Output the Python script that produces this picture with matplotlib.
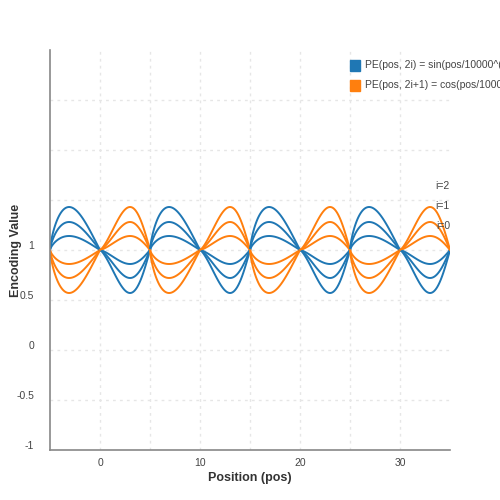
import numpy as np
import matplotlib
matplotlib.use("Agg")
import matplotlib.pyplot as plt

plt.rcParams['font.family'] = ['Liberation Sans', 'DejaVu Sans']

# Data
lobe_starts = [-5, 0, 5, 10, 15, 20, 25, 30]
blue_signs = [1, -1, 1, -1, 1, -1, 1, -1]
amplitudes = [0.14, 0.28, 0.43]          # i=0, i=1, i=2
center = 1.0
yticks = [-1, -0.5, 0, 0.5, 1]
ytick_labels = ["-1", "-0.5", "0", "0.5", "1"]
xticks = [0, 10, 20, 30]
series_labels = ["PE(pos, 2i) = sin(pos/10000^(2i/d))", "PE(pos, 2i+1) = cos(pos/10000^(2i/d))"]
blue, orange = "#1f77b4", "#ff7f0e"

fig = plt.figure(figsize=(5, 5), dpi=100)
ax = fig.add_axes([0.1, 0.1, 0.8, 0.8])
ax.set_xlim(-5, 35)
ax.set_ylim(-1, 3)

for xv in np.arange(0, 35, 5):
    ax.axvline(xv, color="#e6e6e6", lw=1, ls=(0, (2, 3)), zorder=0)
for yv in np.arange(-0.5, 3, 0.5):
    ax.axhline(yv, color="#e6e6e6", lw=1, ls=(0, (2, 3)), zorder=0)

t = np.linspace(0, 1, 60)
for k, (s, sg) in enumerate(zip(lobe_starts, blue_signs)):
    p = 0.72 if k % 2 == 0 else 1.36
    shape = np.sin(np.pi * t ** p)
    xs = s + 5 * t
    for a in amplitudes:
        ax.plot(xs, center + sg * a * shape, color=blue, lw=1.4)
        ax.plot(xs, center - sg * a * shape, color=orange, lw=1.4)

for sp in ["top", "right"]:
    ax.spines[sp].set_visible(False)
for sp in ["left", "bottom"]:
    ax.spines[sp].set_color("#888888")
    ax.spines[sp].set_linewidth(1.2)
ax.set_yticks([])
ax.set_xticks(xticks)
ax.tick_params(axis="x", length=0, labelsize=7.5, colors="#444444", pad=6)
for yv, lab in zip(yticks, ytick_labels):
    ax.text(-6.6, yv + 0.04, lab, ha="right", va="center", fontsize=7.5, color="#444444")

ax.set_xlabel("Position (pos)", fontsize=9, fontweight="bold", color="#333333", labelpad=3)
fig.text(0.032, 0.5, "Encoding Value", rotation=90, ha="center", va="center",
         fontsize=9, fontweight="bold", color="#333333")

for lab, yv in zip(["i=2", "i=1", "i=0"], [1.64, 1.44, 1.24]):
    ax.text(35, yv, lab, ha="right", va="center", fontsize=7.5, color="#444444")

for lab, c, yp in zip(series_labels, [blue, orange], [0.869, 0.829]):
    fig.patches.append(plt.Rectangle((0.70, yp - 0.01), 0.02, 0.02, color=c, transform=fig.transFigure))
    fig.text(0.73, yp, lab, fontsize=7.5, color="#444444", va="center")

fig.savefig("out.png", dpi=100)
